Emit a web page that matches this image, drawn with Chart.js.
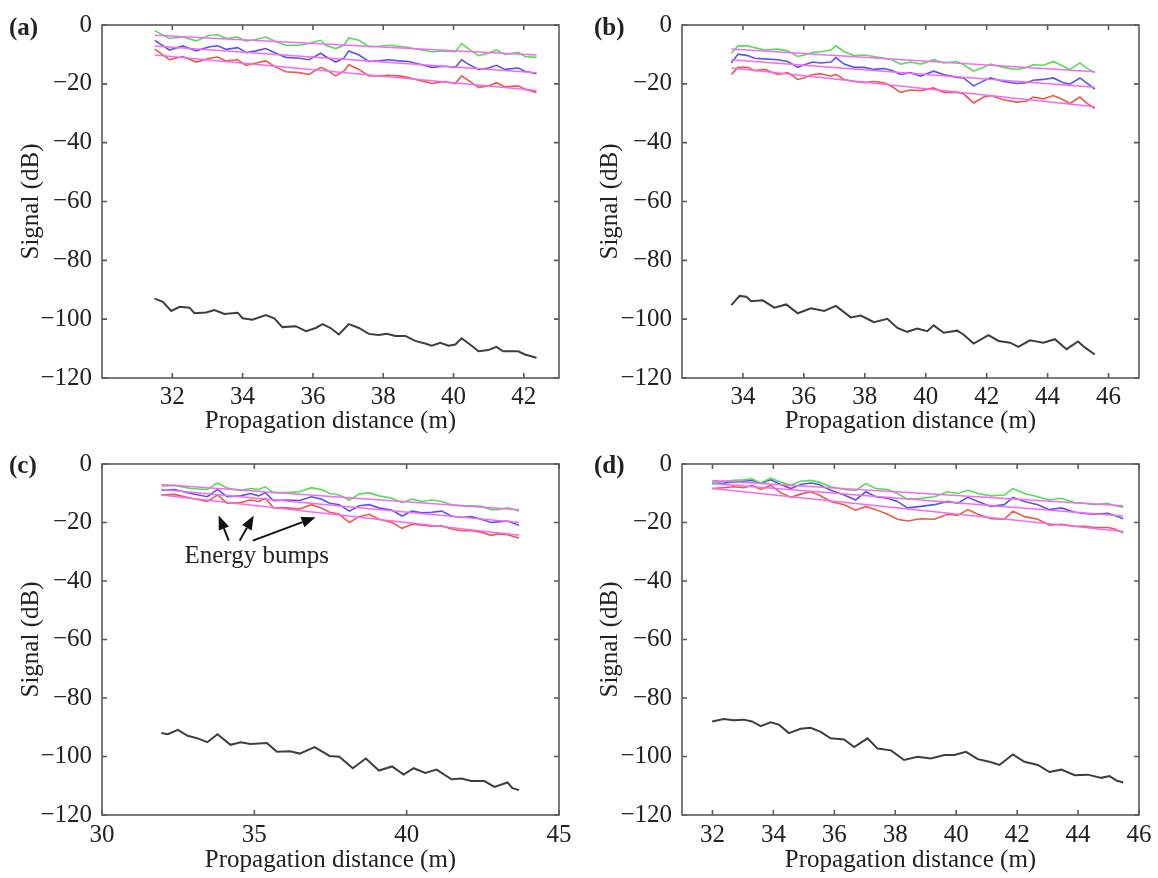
<!DOCTYPE html>
<html>
<head>
<meta charset="utf-8">
<script src="https://cdn.jsdelivr.net/npm/chart.js@4.4.1/dist/chart.umd.min.js"></script>
<style>
  html, body { margin: 0; padding: 0; background: #fff; }
  #wrap { position: relative; width: 1158px; height: 878px; overflow: hidden; }
  .cell { position: absolute; width: 579px; height: 439px; }
  .tag { position: absolute; font-family: 'Liberation Serif', 'Times New Roman', serif; font-weight: bold; font-size: 25px; line-height: 1; color: #222; }
</style>
</head>
<body>
<div id="wrap">
  <div class="cell" style="left:0;top:0"><canvas id="pa"></canvas></div>
  <div class="cell" style="left:579px;top:0"><canvas id="pb"></canvas></div>
  <div class="cell" style="left:0;top:439px"><canvas id="pc"></canvas></div>
  <div class="cell" style="left:579px;top:439px"><canvas id="pd"></canvas></div>
  <div class="tag" style="left:9px;top:14px">(a)</div>
  <div class="tag" style="left:594px;top:14px">(b)</div>
  <div class="tag" style="left:9px;top:452px">(c)</div>
  <div class="tag" style="left:594px;top:452px">(d)</div>
</div>
<script>
// ---- panel (a) ----
const xA = [31.50,31.92,32.30,32.68,33.06,33.29,33.53,33.86,34.10,34.38,34.66,34.95,35.23,35.61,35.89,36.22,36.36,36.65,36.88,37.02,37.31,37.59,37.87,38.16,38.44,38.72,39.10,39.38,39.76,40.05,40.23,40.42,40.71,40.99,41.22,41.46,41.84,42.03,42.36];
const greenA = [-1.9,-4.6,-4.1,-5.4,-3.5,-3.3,-4.6,-4.1,-5.5,-4.9,-4.1,-5.7,-6.9,-6.9,-6.3,-5.2,-6.9,-8.0,-6.9,-4.4,-5.2,-7.4,-7.2,-6.9,-7.2,-7.7,-8.5,-9.1,-8.8,-9.1,-6.3,-8.0,-10.4,-9.6,-8.5,-10.0,-9.3,-10.7,-11.0];
const blueA = [-5.2,-8.5,-7.1,-8.8,-7.4,-7.1,-8.3,-7.7,-9.4,-8.8,-8.0,-9.6,-11.0,-11.3,-11.8,-9.6,-10.7,-12.6,-11.3,-8.8,-10.2,-12.4,-12.2,-11.8,-12.2,-12.4,-13.5,-14.4,-14.0,-14.4,-11.8,-13.3,-15.1,-14.6,-13.7,-15.1,-14.6,-15.7,-16.6];
const redA = [-8.2,-11.8,-10.7,-12.6,-11.3,-10.9,-12.2,-11.8,-13.7,-12.9,-12.2,-14.4,-15.9,-16.2,-16.8,-14.4,-15.1,-17.3,-15.7,-13.5,-15.1,-17.3,-17.3,-17.1,-17.3,-17.9,-19.0,-19.9,-19.2,-19.9,-17.3,-18.8,-21.2,-20.7,-19.6,-21.0,-20.7,-21.8,-22.9];
const blackXA = [31.50,31.73,31.97,32.21,32.49,32.63,32.96,33.20,33.48,33.86,34.00,34.28,34.66,34.90,35.13,35.51,35.80,36.08,36.27,36.50,36.74,37.02,37.31,37.59,37.87,38.11,38.34,38.63,38.91,39.19,39.38,39.62,39.86,40.05,40.23,40.47,40.71,40.99,41.22,41.41,41.84,42.03,42.36];
const blackA = [-93.0,-94.1,-97.2,-95.8,-96.1,-98.0,-97.7,-96.9,-98.2,-97.8,-99.7,-100.2,-98.6,-99.7,-102.7,-102.4,-104.1,-103.0,-101.7,-103.0,-105.2,-101.7,-103.0,-105.0,-105.4,-105.0,-105.7,-105.7,-107.4,-108.3,-109.0,-108.0,-109.0,-108.6,-106.5,-108.6,-110.9,-110.5,-109.4,-110.9,-110.9,-112.0,-113.1];
const fitXA = [31.50, 42.36];
const fitA = [[-3.5, -10.2], [-7.1, -16.2], [-10.2, -22.3]];

// ---- panel (b) ----
const xB = [33.62,33.84,34.16,34.38,34.71,35.14,35.47,35.80,36.02,36.29,36.56,36.89,37.05,37.32,37.65,37.98,38.30,38.63,38.90,39.17,39.50,39.83,40.26,40.59,41.03,41.24,41.57,41.90,42.12,42.55,42.99,43.31,43.53,43.86,44.19,44.51,44.73,45.06,45.27,45.55];
const greenB = [-9.6,-7.1,-7.1,-7.7,-8.5,-8.2,-8.8,-10.7,-10.2,-9.3,-9.1,-8.5,-7.1,-9.1,-10.4,-10.2,-10.7,-11.3,-11.8,-13.3,-12.6,-13.3,-11.8,-12.9,-12.4,-13.5,-15.7,-14.4,-13.3,-14.4,-15.1,-14.4,-13.5,-13.7,-12.4,-14.0,-15.1,-12.9,-14.6,-16.2];
const blueB = [-12.9,-9.9,-10.4,-11.3,-11.5,-11.8,-12.4,-14.4,-13.5,-12.6,-12.9,-12.6,-11.1,-13.3,-14.4,-14.4,-15.1,-14.8,-15.5,-16.8,-16.2,-17.4,-15.7,-16.8,-17.8,-18.0,-20.7,-19.0,-18.0,-19.2,-19.9,-19.6,-18.8,-18.5,-18.0,-19.6,-20.1,-18.0,-19.6,-21.8];
const redB = [-16.8,-14.4,-14.4,-15.5,-15.1,-16.8,-16.2,-18.5,-17.9,-16.8,-16.6,-17.4,-16.8,-18.5,-19.2,-19.6,-19.2,-19.6,-21.0,-22.9,-22.1,-22.3,-21.4,-22.9,-22.9,-23.4,-26.5,-24.5,-24.0,-25.4,-26.2,-25.9,-24.5,-25.1,-24.0,-25.4,-26.7,-24.5,-26.5,-28.4];
const blackXB = [33.62,33.89,34.11,34.27,34.65,35.03,35.42,35.80,36.23,36.67,37.05,37.54,37.87,38.30,38.74,39.07,39.39,39.72,40.05,40.26,40.59,41.03,41.24,41.57,42.06,42.39,42.77,43.04,43.42,43.86,44.24,44.62,45.00,45.22,45.55];
const blackB = [-95.2,-92.1,-92.4,-93.9,-93.6,-96.1,-95.0,-98.0,-96.3,-97.2,-95.5,-99.4,-98.8,-101.0,-99.9,-103.0,-104.3,-103.2,-104.1,-102.1,-104.6,-103.9,-105.2,-108.3,-105.4,-107.4,-108.0,-109.4,-107.2,-108.0,-106.8,-110.2,-107.6,-109.6,-112.0];
const fitXB = [33.62, 45.55];
const fitB = [[-8.2, -15.9], [-11.8, -21.2], [-14.6, -27.8]];

// ---- panel (c) ----
const xC = [31.95,32.38,32.92,33.46,33.79,34.11,34.55,34.87,35.14,35.36,35.63,36.06,36.49,36.87,37.20,37.47,37.79,38.12,38.44,38.77,39.09,39.52,39.85,40.17,40.50,40.82,41.15,41.47,41.80,42.12,42.45,42.77,42.99,43.31,43.69];
const greenC = [-7.6,-7.3,-8.4,-8.7,-6.5,-8.2,-9.0,-8.4,-8.7,-7.8,-9.8,-9.8,-9.5,-8.1,-8.7,-10.1,-10.6,-12.3,-10.3,-9.8,-10.9,-11.7,-13.2,-12.0,-12.8,-12.3,-12.8,-13.9,-14.3,-14.3,-14.5,-15.6,-15.6,-15.0,-16.1];
const blueC = [-9.0,-8.7,-10.1,-11.2,-8.7,-11.2,-10.9,-10.1,-10.9,-9.8,-12.5,-12.3,-12.5,-11.2,-12.0,-13.4,-13.9,-16.1,-14.3,-13.9,-15.0,-15.8,-17.8,-16.1,-16.7,-16.5,-16.1,-17.8,-18.3,-18.0,-18.9,-20.0,-19.8,-19.5,-20.9];
const redC = [-10.6,-10.4,-11.7,-12.8,-10.6,-13.4,-13.2,-12.3,-12.8,-11.7,-15.0,-15.0,-15.4,-13.9,-15.0,-16.5,-17.2,-20.0,-18.0,-17.2,-18.9,-20.0,-22.0,-20.6,-20.9,-21.3,-21.1,-22.2,-22.8,-22.8,-23.3,-24.4,-23.9,-24.2,-25.3];
const blackXC = [31.95,32.16,32.49,32.81,33.14,33.46,33.79,34.22,34.55,34.87,35.41,35.74,36.17,36.49,36.98,37.47,37.79,38.23,38.66,39.09,39.52,39.90,40.23,40.61,40.98,41.47,41.80,42.12,42.55,42.88,43.31,43.47,43.69];
const blackC = [-92.0,-92.4,-90.9,-92.9,-93.8,-95.1,-92.4,-96.0,-95.1,-95.7,-95.4,-98.4,-98.2,-99.0,-96.8,-99.8,-100.1,-104.0,-100.7,-104.8,-103.4,-106.2,-104.0,-105.6,-104.5,-107.8,-107.5,-108.4,-108.4,-110.4,-108.9,-110.8,-111.5];
const fitXC = [31.95, 43.69];
const fitC = [[-7.0, -15.6], [-8.7, -20.0], [-10.6, -24.4]];
const bumpTips = [[33.83, -17.6], [34.98, -17.6], [37.01, -18.2]];
const bumpTails = [[34.16, -26.2], [34.52, -26.2], [34.95, -26.2]];
const bumpLabel = [35.08, -31.6];

// ---- panel (d) ----
const xD = [31.99,32.37,32.70,33.03,33.30,33.58,33.91,34.24,34.57,34.89,35.22,35.50,35.88,36.32,36.70,37.03,37.36,37.75,38.07,38.40,38.84,39.28,39.72,40.05,40.38,40.71,41.14,41.58,41.86,42.24,42.68,43.06,43.45,43.89,44.21,44.54,44.98,45.20,45.48];
const greenD = [-6.2,-5.9,-5.6,-5.4,-5.1,-6.5,-4.8,-6.2,-7.3,-5.9,-5.6,-6.2,-7.8,-8.7,-9.0,-6.7,-8.4,-8.7,-10.1,-12.0,-11.7,-11.2,-9.5,-10.1,-9.0,-10.1,-10.9,-10.6,-8.4,-10.1,-11.2,-12.3,-11.7,-13.2,-13.4,-13.9,-13.4,-14.3,-14.8];
const blueD = [-6.7,-6.5,-6.2,-5.9,-5.6,-6.7,-5.4,-7.0,-8.4,-7.0,-6.5,-7.0,-9.0,-10.6,-12.3,-9.5,-11.2,-11.7,-12.8,-15.0,-14.5,-13.9,-12.8,-13.4,-11.4,-12.8,-14.5,-13.9,-11.4,-12.8,-13.9,-15.6,-15.0,-16.5,-16.9,-17.2,-16.9,-17.6,-18.7];
const redD = [-8.4,-8.1,-7.8,-8.1,-7.3,-8.7,-7.3,-9.8,-11.4,-10.3,-9.5,-10.6,-12.8,-13.9,-15.8,-14.5,-15.6,-17.2,-18.9,-19.5,-18.7,-18.9,-17.2,-17.6,-15.6,-17.2,-18.7,-18.9,-16.1,-18.0,-18.9,-20.9,-20.6,-21.3,-21.3,-21.7,-21.7,-22.2,-23.5];
const blackXD = [31.99,32.37,32.70,33.03,33.30,33.58,33.91,34.18,34.51,34.89,35.22,35.55,35.88,36.32,36.65,37.09,37.42,37.86,38.29,38.73,39.17,39.61,39.94,40.32,40.71,41.09,41.42,41.86,42.24,42.68,43.06,43.45,43.89,44.32,44.76,45.04,45.26,45.48];
const blackD = [-88.0,-87.2,-87.6,-87.4,-88.0,-89.6,-88.3,-89.1,-92.0,-90.5,-90.2,-91.6,-93.8,-94.2,-96.8,-93.8,-97.3,-97.9,-101.2,-100.1,-100.7,-99.5,-99.5,-98.4,-100.9,-101.8,-102.9,-99.3,-101.8,-102.9,-105.3,-104.5,-106.4,-106.2,-107.3,-106.7,-108.2,-108.9];
const fitXD = [31.99, 45.48];
const fitD = [[-5.6, -14.3], [-6.7, -17.8], [-8.4, -23.1]];

const yTicks = [0, -20, -40, -60, -80, -100, -120];

const FONT = "'Liberation Serif', 'Times New Roman', serif";
const TXT = '#222';

function pts(xs, ys) {
    return xs.map((x, i) => ({ x: x, y: ys[i] }));
}

// frame with inward ticks on all four sides
const framePlugin = {
    id: 'frame',
    afterDatasetsDraw(chart) {
        const { ctx, chartArea: a, scales: { x, y } } = chart;
        ctx.save();
        ctx.strokeStyle = '#5a5a5a';
        ctx.lineWidth = 1.6;
        ctx.strokeRect(a.left, a.top, a.right - a.left, a.bottom - a.top);
        ctx.beginPath();
        x.ticks.forEach(t => {
            const px = x.getPixelForValue(t.value);
            ctx.moveTo(px, a.bottom); ctx.lineTo(px, a.bottom - 5);
            ctx.moveTo(px, a.top); ctx.lineTo(px, a.top + 5);
        });
        y.ticks.forEach(t => {
            const py = y.getPixelForValue(t.value);
            ctx.moveTo(a.left, py); ctx.lineTo(a.left + 5, py);
            ctx.moveTo(a.right, py); ctx.lineTo(a.right - 5, py);
        });
        ctx.stroke();
        ctx.restore();
    }
};

// "Energy bumps" arrows for panel (c)
const bumpPlugin = {
    id: 'bumps',
    afterDatasetsDraw(chart, args, opts) {
        if (!opts.on) return;
        const { ctx, scales: { x, y } } = chart;
        ctx.save();
        ctx.strokeStyle = '#111';
        ctx.fillStyle = '#111';
        ctx.lineWidth = 2;
        bumpTips.forEach((tip, i) => {
            const x1 = x.getPixelForValue(bumpTails[i][0]), y1 = y.getPixelForValue(bumpTails[i][1]);
            const x2 = x.getPixelForValue(tip[0]), y2 = y.getPixelForValue(tip[1]);
            const ang = Math.atan2(y2 - y1, x2 - x1);
            const hl = 14, hw = 5.5;
            const bx = x2 - hl * Math.cos(ang), by = y2 - hl * Math.sin(ang);
            ctx.beginPath();
            ctx.moveTo(x1, y1); ctx.lineTo(bx, by);
            ctx.stroke();
            ctx.beginPath();
            ctx.moveTo(x2, y2);
            ctx.lineTo(bx + hw * Math.sin(ang), by - hw * Math.cos(ang));
            ctx.lineTo(bx - hw * Math.sin(ang), by + hw * Math.cos(ang));
            ctx.closePath();
            ctx.fill();
        });
        ctx.font = '25px ' + FONT;
        ctx.fillStyle = TXT;
        ctx.textAlign = 'center';
        ctx.textBaseline = 'middle';
        ctx.fillText('Energy bumps', x.getPixelForValue(bumpLabel[0]), y.getPixelForValue(bumpLabel[1]));
        ctx.restore();
    }
};

function makePanel(id, p) {
    const line = (data, color, width, order) => ({
        data: data, borderColor: color, borderWidth: width,
        pointRadius: 0, tension: 0, fill: false, order: order
    });
    const datasets = [
        line(pts(p.x, p.green), '#55dd55', 1.6, 2),
        line(pts(p.x, p.blue), '#5a55e6', 1.6, 2),
        line(pts(p.x, p.red), '#ec5a45', 1.6, 2),
        line(pts(p.blackX, p.black), '#3e3e3e', 2, 2)
    ];
    p.fit.forEach(f => datasets.push(line(pts(p.fitX, f), '#f46af4', 1.5, 1)));

    new Chart(document.getElementById(id), {
        type: 'line',
        data: { datasets: datasets },
        options: {
            responsive: true,
            maintainAspectRatio: false,
            animation: false,
            layout: { padding: { top: p.top, right: p.right, left: 0, bottom: 0 } },
            plugins: {
                legend: { display: false },
                tooltip: { enabled: false },
                bumps: { on: !!p.bumps }
            },
            scales: {
                x: {
                    type: 'linear',
                    min: p.xmin, max: p.xmax,
                    grid: { display: false, drawTicks: false, tickLength: 0 },
                    border: { display: false },
                    afterBuildTicks: s => { s.ticks = p.xticks.map(v => ({ value: v })); },
                    afterFit: s => { s.height = p.xh; },
                    ticks: {
                        autoSkip: false, maxRotation: 0, padding: p.xpad,
                        color: TXT, font: { family: FONT, size: 25 },
                        callback: v => String(v)
                    },
                    title: {
                        display: true, text: 'Propagation distance (m)',
                        color: TXT, font: { family: FONT, size: 25 },
                        padding: { top: 0, bottom: p.xtitlePad }
                    }
                },
                y: {
                    min: -120, max: 0,
                    grid: { display: false, drawTicks: false, tickLength: 0 },
                    border: { display: false },
                    afterBuildTicks: s => { s.ticks = yTicks.map(v => ({ value: v })); },
                    afterFit: s => { s.width = p.yw; },
                    ticks: {
                        padding: 10, color: TXT, font: { family: FONT, size: 25 },
                        callback: v => v === 0 ? '0' : '\u2212' + Math.abs(v)
                    },
                    title: {
                        display: true, text: 'Signal (dB)',
                        color: TXT, font: { family: FONT, size: 25 },
                        padding: { top: 16, bottom: 0 }
                    }
                }
            }
        },
        plugins: [framePlugin, bumpPlugin]
    });
}

makePanel('pa', {
    x: xA, green: greenA, blue: blueA, red: redA, blackX: blackXA, black: blackA,
    fitX: fitXA, fit: fitA,
    xmin: 30, xmax: 43, xticks: [32, 34, 36, 38, 40, 42],
    top: 16, right: 20, yw: 102, xh: 61, xpad: 4, xtitlePad: 3
});
makePanel('pb', {
    x: xB, green: greenB, blue: blueB, red: redB, blackX: blackXB, black: blackB,
    fitX: fitXB, fit: fitB,
    xmin: 32, xmax: 47, xticks: [34, 36, 38, 40, 42, 44, 46],
    top: 16, right: 19, yw: 103, xh: 61, xpad: 4, xtitlePad: 3
});
makePanel('pc', {
    x: xC, green: greenC, blue: blueC, red: redC, blackX: blackXC, black: blackC,
    fitX: fitXC, fit: fitC,
    xmin: 30, xmax: 45, xticks: [30, 35, 40, 45],
    top: 14, right: 20, yw: 102, xh: 63, xpad: 5, xtitlePad: 3, bumps: true
});
makePanel('pd', {
    x: xD, green: greenD, blue: blueD, red: redD, blackX: blackXD, black: blackD,
    fitX: fitXD, fit: fitD,
    xmin: 31, xmax: 46, xticks: [32, 34, 36, 38, 40, 42, 44, 46],
    top: 14, right: 19, yw: 103, xh: 63, xpad: 5, xtitlePad: 3
});
</script>
</body>
</html>
